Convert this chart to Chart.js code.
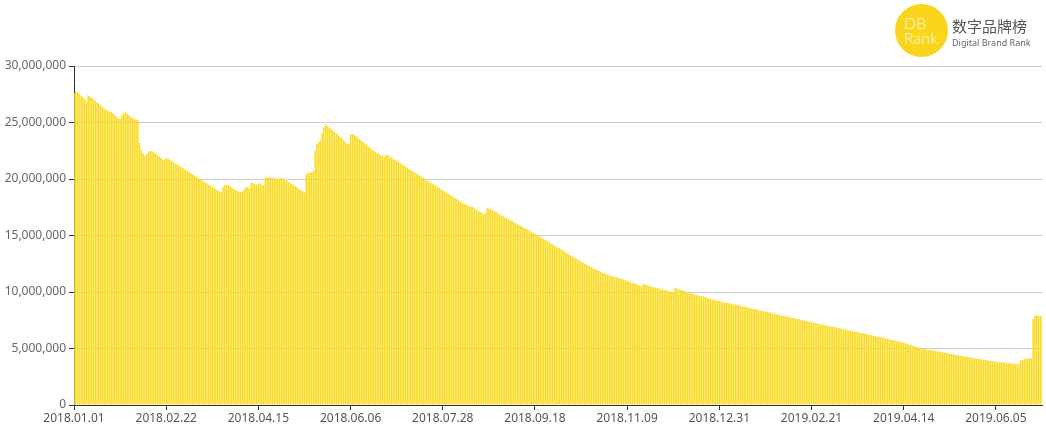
<!DOCTYPE html>
<html lang="zh-CN">
<head>
<meta charset="utf-8">
<title>DB Rank</title>
<script src="https://cdn.jsdelivr.net/npm/chart.js@4.4.1/dist/chart.umd.min.js"></script>
<style>
  html, body { margin: 0; padding: 0; background: #fff; }
  #wrap { position: relative; width: 1046px; height: 433px; }
  #logo { position: absolute; left: 0; top: 0; width: 1046px; height: 70px; pointer-events: none; }
  .circle { position: absolute; left: 895px; top: 4px; width: 53px; height: 53px; border-radius: 50%; background: #f9d51c; }
  .db, .rank { position: absolute; left: 9px; font-family: Lato, 'Noto Sans', sans-serif; font-weight: 300; font-size: 16px; line-height: 16px; color: rgba(255,255,255,.85); }
  .db { top: 11px; }
  .rank { top: 26px; }
  .cn { position: absolute; left: 952px; top: 17px; font-family: 'Noto Sans CJK SC', sans-serif; font-size: 15px; line-height: 17px; color: #555; }
  .en { position: absolute; left: 952px; top: 38px; font-family: 'Noto Sans', sans-serif; font-size: 9px; line-height: 10px; color: #666; }
</style>
</head>
<body>
<div id="wrap">
  <canvas id="chart"></canvas>
  <div id="logo">
    <div class="circle"><span class="db">DB</span><span class="rank">Rank</span></div>
    <div class="cn">数字品牌榜</div>
    <div class="en">Digital Brand Rank</div>
  </div>
</div>
<script>
// daily values, in millions, starting 2018.01.01
const START = [2018, 0, 1];
const TICK_LABELS = ['2018.01.01','2018.02.22','2018.04.15','2018.06.06','2018.07.28','2018.09.18',
  '2018.11.09','2018.12.31','2019.02.21','2019.04.14','2019.06.05'];
const Y_MAX = 30000000;
const Y_STEP = 5000000;

const VALUES_M = [
  27.6, 27.75, 27.7, 27.55, 27.4, 27.25, 27.05, 26.85, 27.4, 27.3,
  27.2, 27.05, 26.95, 26.8, 26.65, 26.5, 26.35, 26.25, 26.15, 26.05,
  25.95, 25.9, 25.8, 25.65, 25.5, 25.4, 25.3, 25.65, 25.85, 25.9,
  25.75, 25.65, 25.5, 25.4, 25.3, 25.25, 25.2, 23.2, 22.5, 22.25,
  22.05, 22.2, 22.4, 22.5, 22.45, 22.35, 22.25, 22.15, 22.0, 21.9,
  21.75, 21.65, 21.85, 21.8, 21.7, 21.6, 21.5, 21.4, 21.3, 21.2,
  21.1, 21.0, 20.9, 20.8, 20.7, 20.6, 20.5, 20.4, 20.3, 20.2,
  20.1, 20.0, 19.9, 19.8, 19.7, 19.6, 19.5, 19.4, 19.3, 19.2,
  19.1, 19.0, 18.9, 18.85, 19.3, 19.45, 19.5, 19.45, 19.35, 19.25,
  19.15, 19.05, 18.95, 18.9, 18.85, 18.9, 19.1, 19.3, 19.25, 19.2,
  19.7, 19.65, 19.55, 19.5, 19.6, 19.6, 19.5, 19.45, 20.1, 20.15,
  20.15, 20.1, 20.1, 20.05, 20.05, 20.0, 20.05, 20.1, 20.05, 19.95,
  19.85, 19.75, 19.65, 19.55, 19.45, 19.35, 19.25, 19.1, 19.0, 18.9,
  18.8, 20.4, 20.55, 20.55, 20.6, 20.7, 22.5, 23.1, 23.3, 23.4,
  24.1, 24.6, 24.85, 24.7, 24.55, 24.45, 24.3, 24.2, 24.05, 23.9,
  23.75, 23.6, 23.45, 23.3, 23.15, 23.1, 23.95, 24.0, 23.9, 23.8,
  23.65, 23.55, 23.4, 23.3, 23.15, 23.05, 22.9, 22.75, 22.6, 22.5,
  22.4, 22.3, 22.2, 22.15, 22.05, 21.95, 22.15, 22.1, 22.0, 21.9,
  21.8, 21.7, 21.6, 21.5, 21.4, 21.3, 21.2, 21.1, 21.0, 20.9,
  20.8, 20.7, 20.6, 20.5, 20.4, 20.3, 20.2, 20.1, 20.0, 19.9,
  19.8, 19.7, 19.6, 19.5, 19.4, 19.3, 19.2, 19.1, 19.0, 18.9,
  18.8, 18.7, 18.6, 18.5, 18.4, 18.3, 18.2, 18.1, 18.0, 17.9,
  17.8, 17.75, 17.65, 17.6, 17.55, 17.5, 17.4, 17.3, 17.2, 17.1,
  17.0, 16.95, 16.9, 17.45, 17.4, 17.3, 17.25, 17.15, 17.1, 17.0,
  16.85, 16.8, 16.7, 16.6, 16.55, 16.45, 16.35, 16.3, 16.2, 16.1,
  16.05, 15.95, 15.85, 15.75, 15.65, 15.6, 15.5, 15.4, 15.3, 15.25,
  15.15, 15.05, 15.0, 14.9, 14.8, 14.7, 14.6, 14.5, 14.4, 14.3,
  14.2, 14.1, 14.0, 13.9, 13.85, 13.75, 13.65, 13.55, 13.45, 13.35,
  13.25, 13.15, 13.05, 12.95, 12.9, 12.8, 12.7, 12.6, 12.5, 12.45,
  12.35, 12.25, 12.2, 12.1, 12.0, 11.95, 11.85, 11.8, 11.7, 11.65,
  11.6, 11.55, 11.5, 11.45, 11.4, 11.35, 11.3, 11.25, 11.2, 11.15,
  11.1, 11.05, 11.0, 10.9, 10.85, 10.8, 10.75, 10.7, 10.65, 10.6,
  10.5, 10.7, 10.65, 10.6, 10.55, 10.5, 10.45, 10.4, 10.4, 10.35,
  10.3, 10.25, 10.2, 10.2, 10.15, 10.1, 10.05, 10.05, 10.0, 10.35,
  10.3, 10.25, 10.2, 10.15, 10.1, 10.05, 10.0, 9.95, 9.9, 9.85,
  9.8, 9.75, 9.7, 9.65, 9.65, 9.6, 9.55, 9.5, 9.45, 9.4,
  9.35, 9.3, 9.25, 9.25, 9.2, 9.15, 9.1, 9.1, 9.05, 9.0,
  9.0, 8.95, 8.9, 8.9, 8.85, 8.8, 8.75, 8.75, 8.7, 8.65,
  8.65, 8.6, 8.55, 8.5, 8.5, 8.45, 8.4, 8.35, 8.35, 8.3,
  8.25, 8.25, 8.2, 8.15, 8.1, 8.1, 8.05, 8.0, 7.95, 7.95,
  7.9, 7.85, 7.85, 7.8, 7.75, 7.7, 7.7, 7.65, 7.6, 7.6,
  7.55, 7.5, 7.45, 7.45, 7.4, 7.35, 7.3, 7.3, 7.25, 7.2,
  7.2, 7.15, 7.1, 7.1, 7.05, 7.0, 7.0, 6.95, 6.9, 6.9,
  6.85, 6.8, 6.8, 6.75, 6.7, 6.7, 6.65, 6.6, 6.6, 6.55,
  6.5, 6.5, 6.45, 6.4, 6.4, 6.35, 6.3, 6.3, 6.25, 6.2,
  6.15, 6.1, 6.1, 6.05, 6.0, 6.0, 5.95, 5.9, 5.9, 5.85,
  5.8, 5.75, 5.75, 5.7, 5.65, 5.6, 5.6, 5.55, 5.5, 5.45,
  5.4, 5.35, 5.3, 5.25, 5.2, 5.15, 5.1, 5.05, 5.0, 4.97,
  4.94, 4.91, 4.88, 4.85, 4.82, 4.8, 4.77, 4.74, 4.71, 4.68,
  4.65, 4.62, 4.6, 4.57, 4.54, 4.51, 4.48, 4.45, 4.43, 4.4,
  4.37, 4.34, 4.31, 4.28, 4.26, 4.23, 4.2, 4.17, 4.14, 4.12,
  4.09, 4.06, 4.03, 4.0, 3.98, 3.95, 3.92, 3.89, 3.87, 3.85,
  3.83, 3.81, 3.79, 3.77, 3.75, 3.73, 3.72, 3.7, 3.69, 3.67,
  3.66, 3.64, 3.62, 3.6, 3.95, 4.0, 4.05, 4.1, 4.12, 4.12,
  4.14, 7.6, 7.9, 7.95, 7.9, 7.85, 7.85
];

const pad = n => String(n).padStart(2, '0');
const dates = VALUES_M.map((_, i) => {
  const d = new Date(Date.UTC(START[0], START[1], START[2] + i));
  return d.getUTCFullYear() + '.' + pad(d.getUTCMonth() + 1) + '.' + pad(d.getUTCDate());
});

const FONT = "'Noto Sans', 'DejaVu Sans', sans-serif";

new Chart(document.getElementById('chart').getContext('2d'), {
  type: 'bar',
  data: {
    labels: dates,
    datasets: [{
      data: VALUES_M.map(v => v * 1000000),
      backgroundColor: '#fadb26',
      borderWidth: 0,
      barPercentage: 0.85,
      categoryPercentage: 1,
    }]
  },
  options: {
    responsive: true,
    maintainAspectRatio: false,
    animation: false,
    layout: { padding: { top: 66, right: 4, left: 0, bottom: 0 } },
    plugins: { legend: { display: false }, tooltip: { enabled: false } },
    scales: {
      x: {
        offset: false,
        grid: { offset: false, drawOnChartArea: false, drawTicks: true, tickLength: 5, tickColor: '#333' },
        border: { color: '#333', width: 1 },
        ticks: { autoSkip: false, maxRotation: 0, color: '#555', padding: 1, font: { family: FONT, size: 12 } },
        afterBuildTicks: axis => { axis.ticks = axis.ticks.filter(t => TICK_LABELS.includes(dates[t.value])); },
        afterFit: s => { s.height = 28; }
      },
      y: {
        min: 0,
        max: Y_MAX,
        grid: { color: '#cccccc', tickColor: '#333', tickLength: 5 },
        border: { color: '#333', width: 1 },
        ticks: {
          stepSize: Y_STEP,
          color: '#666',
          padding: 3,
          font: { family: FONT, size: 12 },
          callback: v => v.toLocaleString('en-US')
        },
        afterFit: s => { s.width = 74; }
      }
    }
  }
});
</script>
</body>
</html>
